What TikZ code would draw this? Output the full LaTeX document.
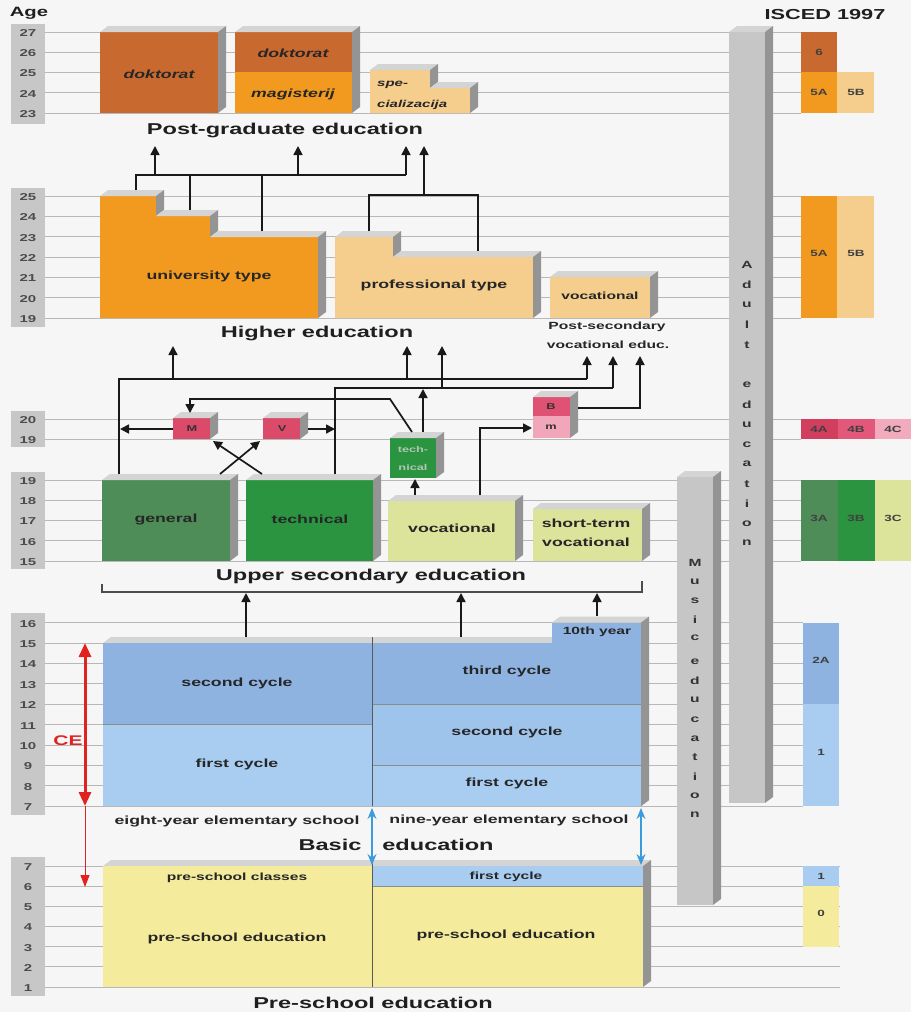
\documentclass[tikz,border=0pt]{standalone}
\usepackage{fontspec}
\setmainfont{Liberation Sans}[FakeStretch=1.5]
\usetikzlibrary{arrows.meta}
\definecolor{bg}{HTML}{F6F6F6}
\definecolor{cdok}{HTML}{C8692F}
\definecolor{cora}{HTML}{F29A1F}
\definecolor{cpea}{HTML}{F5CD8D}
\definecolor{cgen}{HTML}{4E8D57}
\definecolor{ctec}{HTML}{2A9440}
\definecolor{cvoc}{HTML}{DCE39B}
\definecolor{cmv}{HTML}{DC4A69}
\definecolor{cbb}{HTML}{DF5274}
\definecolor{cmm}{HTML}{F2A6BA}
\definecolor{cfa}{HTML}{D23E5E}
\definecolor{cfb}{HTML}{E2577A}
\definecolor{cfc}{HTML}{F2AABD}
\definecolor{cbd}{HTML}{8FB3E1}
\definecolor{cbm}{HTML}{9FC4EC}
\definecolor{cbl}{HTML}{A9CDF1}
\definecolor{cyel}{HTML}{F4EB9C}
\definecolor{ccol}{HTML}{C6C6C6}
\definecolor{cred}{HTML}{E0231F}
\definecolor{cblu}{HTML}{3C9BDA}
\newcommand\topf[3]{\fill[topface] (#1,#3) -- (#2,#3) -- ({#2+8},{#3-6}) -- ({#1+8},{#3-6}) -- cycle;}
\newcommand\sidef[3]{\fill[sideface] (#1,#2) -- ({#1+8},{#2-6}) -- ({#1+8},{#3-6}) -- (#1,#3) -- cycle;}
\newcommand\boxxd[5]{\fill[#5] (#1,#2) rectangle (#3,#4); \topf{#1}{#3}{#2} \sidef{#3}{#2}{#4}}
\tikzset{
 grid/.style={draw=black!28, line width=0.7pt},
 agebox/.style={fill=black!22},
 agenum/.style={font=\fontsize{10}{10}\selectfont\bfseries, text=black!70, inner sep=0},
 topface/.style={fill=black!17},
 sideface/.style={fill=black!42},
 conn/.style={draw=black!90, line width=1.7pt},
 arr/.style={conn, -{Triangle[length=9pt,width=9pt]}},
 head/.style={font=\fontsize{15.7}{17}\selectfont\bfseries, inner sep=0, text=black!88},
 lbl/.style={font=\fontsize{11.8}{13}\selectfont\bfseries, inner sep=0, text=black!85},
 lbli/.style={font=\fontsize{11.8}{13}\selectfont\bfseries\itshape, inner sep=0, text=black!85},
 small/.style={font=\fontsize{10.4}{12}\selectfont\bfseries, inner sep=0, text=black!85},
 tiny/.style={font=\fontsize{8.5}{9}\selectfont\bfseries, inner sep=0, text=black!80},
 isc/.style={font=\fontsize{9}{10}\selectfont\bfseries, inner sep=0, text=black!75},
 vlet/.style={font=\fontsize{10.4}{11}\selectfont\bfseries, inner sep=0, text=black!80},
}
\begin{document}
\begin{tikzpicture}[x=1pt,y=-1pt]
\useasboundingbox (0,0) rectangle (911,1012);
\fill[bg] (0,0) rectangle (911,1012);

% ---------- age label boxes ----------
\fill[agebox] (11,24) rectangle (45,124);
\fill[agebox] (11,188) rectangle (45,327);
\fill[agebox] (11,411) rectangle (45,447);
\fill[agebox] (11,472) rectangle (45,569);
\fill[agebox] (11,613) rectangle (45,815);
\fill[agebox] (11,857) rectangle (45,996);

% ---------- grid lines and ages ----------
\foreach \a in {23,...,27}{\pgfmathsetmacro\yy{113-20.25*(\a-23)}
  \draw[grid] (45,\yy) -- (801,\yy); \node[agenum] (ageA\a) at (28,\yy+1) {\a};}
\foreach \a in {19,...,25}{\pgfmathsetmacro\yy{318-20.33*(\a-19)}
  \draw[grid] (45,\yy) -- (801,\yy); \node[agenum] (ageB\a) at (28,\yy+1) {\a};}
\foreach \a in {19,20}{\pgfmathsetmacro\yy{439-20*(\a-19)}
  \draw[grid] (45,\yy) -- (801,\yy); \node[agenum] (ageC\a) at (28,\yy+1) {\a};}
\foreach \a in {15,...,19}{\pgfmathsetmacro\yy{561-20.25*(\a-15)}
  \draw[grid] (45,\yy) -- (801,\yy); \node[agenum] (ageD\a) at (28,\yy+1) {\a};}
\foreach \a in {7,...,16}{\pgfmathsetmacro\yy{806.2-20.4*(\a-7)}
  \draw[grid] (45,\yy) -- (803,\yy); \node[agenum] (ageE\a) at (28,\yy+1) {\a};}
\foreach \a in {1,...,7}{\pgfmathsetmacro\yy{987-20.17*(\a-1)}
  \draw[grid] (45,\yy) -- (840,\yy); \node[agenum] (ageF\a) at (28,\yy+1) {\a};}
\node[font=\fontsize{13.5}{14}\selectfont\bfseries, inner sep=0, text=black!88] (agehead) at (29,13) {Age};

% ---------- ISCED column ----------
\node[font=\fontsize{14.5}{15}\selectfont\bfseries, inner sep=0, text=black!88] (isced) at (825,15) {ISCED 1997};
\fill[cdok] (801,32) rectangle (837,72);
\fill[cora] (801,72) rectangle (837,113);
\fill[cpea] (837,72) rectangle (874,113);
\fill[cora] (801,196) rectangle (837,318);
\fill[cpea] (837,196) rectangle (874,318);
\fill[cfa] (801,419) rectangle (838,439);
\fill[cfb] (838,419) rectangle (875,439);
\fill[cfc] (875,419) rectangle (911,439);
\fill[cgen] (801,480) rectangle (838,561);
\fill[ctec] (838,480) rectangle (875,561);
\fill[cvoc] (875,480) rectangle (911,561);
\fill[cbd] (803,622.6) rectangle (839,704.2);
\fill[cbl] (803,704.2) rectangle (839,806.2);
\fill[cbl] (803,866) rectangle (839,886.2);
\fill[cyel] (803,886.2) rectangle (839,946.5);
\node[isc] (i6) at (819,52) {6};
\node[isc] (i5a) at (819,92) {5A};
\node[isc] (i5b) at (856,92) {5B};
\node[isc] (i5a2) at (819,253) {5A};
\node[isc] (i5b2) at (856,253) {5B};
\node[isc] (i4a) at (819,429) {4A};
\node[isc] (i4b) at (856,429) {4B};
\node[isc] (i4c) at (893,429) {4C};
\node[isc] (i3a) at (819,518) {3A};
\node[isc] (i3b) at (856,518) {3B};
\node[isc] (i3c) at (893,518) {3C};
\node[isc] (i2a) at (821,660) {2A};
\node[isc] (i1) at (821,752) {1};
\node[isc] (i1b) at (821,876) {1};
\node[isc] (i0) at (821,913) {0};

% ---------- gray columns ----------
\boxxd{729}{32}{765}{803}{ccol}
\boxxd{677}{477}{713}{905}{ccol}
\foreach \c [count=\i from 0] in {A,d,u,l,t}{\node[vlet] (adA\i) at (747,{265+20*\i}) {\c};}
\foreach \c [count=\i from 0] in {e,d,u,c,a,t,i,o,n}{\node[vlet] (adB\i) at (747,{385+19.75*\i}) {\c};}
\foreach \c [count=\i from 0] in {M,u,s,i,c}{\node[vlet] (muA\i) at (695,{563+18.8*\i}) {\c};}
\foreach \c [count=\i from 0] in {e,d,u,c,a,t,i,o,n}{\node[vlet] (muB\i) at (695,{662+19.1*\i}) {\c};}

% ---------- post-graduate ----------
\boxxd{100}{32}{218}{113}{cdok}
\fill[cdok] (235,32) rectangle (352,72);
\fill[cora] (235,72) rectangle (352,113);
\topf{235}{352}{32} \sidef{352}{32}{113}
\fill[cpea] (370,113) -- (370,70) -- (430,70) -- (430,88) -- (470,88) -- (470,113) -- cycle;
\topf{370}{430}{70} \sidef{430}{70}{88} \topf{430}{470}{88} \sidef{470}{88}{113}
\node[lbli] (dok1) at (159,74) {doktorat};
\node[lbli] (dok2) at (293,53) {doktorat};
\node[lbli] (mag) at (293,94) {magisterij};
\node[font=\fontsize{10}{11}\selectfont\bfseries\itshape, inner sep=0, text=black!85, anchor=west] (spe) at (377,85) {spe-};
\node[font=\fontsize{10}{11}\selectfont\bfseries\itshape, inner sep=0, text=black!85, anchor=west] (spec) at (377,105) {cializacija};
\node[head] (hpost) at (285,130) {Post-graduate education};

% ---------- higher education ----------
\fill[cora] (100,318) -- (100,196) -- (156,196) -- (156,216) -- (210,216) -- (210,237) -- (318,237) -- (318,318) -- cycle;
\topf{100}{156}{196} \sidef{156}{196}{216} \topf{156}{210}{216} \sidef{210}{216}{237} \topf{210}{318}{237} \sidef{318}{237}{318}
\fill[cpea] (335,318) -- (335,237) -- (393,237) -- (393,257) -- (533,257) -- (533,318) -- cycle;
\topf{335}{393}{237} \sidef{393}{237}{257} \topf{393}{533}{257} \sidef{533}{257}{318}
\boxxd{550}{277}{650}{318}{cpea}
\node[lbl] (univ) at (209,276) {university type};
\node[lbl] (prof) at (434,285) {professional type};
\node[small] (pvoc) at (600,296) {vocational};
\node[head] (hhigh) at (317,333) {Higher education};
\node[small] (ps1) at (607,327) {Post-secondary};
\node[small] (ps2) at (608,345) {vocational educ.};

% ---------- upper secondary ----------
\boxxd{102}{480}{230}{561}{cgen}
\boxxd{246}{480}{373}{561}{ctec}
\boxxd{388}{501}{515}{561}{cvoc}
\boxxd{533}{509}{642}{561}{cvoc}
\boxxd{173}{418}{210}{439}{cmv}
\boxxd{263}{418}{300}{439}{cmv}
\boxxd{390}{438}{436}{478}{ctec}
\fill[cbb] (533,397) rectangle (570,416);
\fill[cmm] (533,416) rectangle (570,438);
\topf{533}{570}{397} \sidef{570}{397}{438}
\node[lbl] (gen) at (166,519) {general};
\node[lbl] (tec) at (310,519) {technical};
\node[lbl] (voc) at (452,528) {vocational};
\node[lbl] (st1) at (586,523) {short-term};
\node[lbl] (st2) at (586,542) {vocational};
\node[tiny] (mM) at (192,429) {M};
\node[tiny] (mV) at (282,429) {V};
\node[tiny] (mB) at (551,407) {B};
\node[tiny] (mm) at (551,427) {m};
\node[tiny, text=green!25!black!30] (tn1) at (413,449) {tech-};
\node[tiny, text=green!25!black!30] (tn2) at (413,467) {nical};
\node[head] (hupper) at (371,576) {Upper secondary education};

% ---------- basic ----------
\topf{103}{552}{643}
\fill[cbd] (103,643) rectangle (372,724.6);
\fill[cbl] (103,724.6) rectangle (372,806.2);
\fill[cbd] (372,643) rectangle (641,704.2);
\fill[cbd] (552,622.6) rectangle (641,643);
\fill[cbm] (372,704.2) rectangle (641,765.4);
\fill[cbl] (372,765.4) rectangle (641,806.2);
\topf{552}{641}{622.6} \sidef{641}{622.6}{806.2}
\draw[black!45, line width=0.6pt] (103,724.6) -- (372,724.6);
\draw[black!45, line width=0.6pt] (372,704.2) -- (641,704.2);
\draw[black!45, line width=0.6pt] (372,765.4) -- (641,765.4);
\draw[black!65, line width=0.7pt] (372,637) -- (372,806.2);
\node[lbl] (b2L) at (237,683) {second cycle};
\node[lbl] (b1L) at (237,764) {first cycle};
\node[lbl] (b3R) at (507,671) {third cycle};
\node[lbl] (b2R) at (507,732) {second cycle};
\node[lbl] (b1R) at (507,783) {first cycle};
\node[small] (tenth) at (597,632) {10th year};
\node[lbl] (eight) at (237,821) {eight-year elementary school};
\node[lbl] (nine) at (509,820) {nine-year elementary school};
\node[head] (hbasic) at (330,845) {Basic};
\node[head] (hbasic2) at (438,845) {education};
\node[font=\fontsize{14}{15}\selectfont\bfseries, inner sep=0, text=cred] (ce) at (68,741) {CE};

% ---------- pre-school ----------
\topf{103}{643}{866}
\fill[cyel] (103,866) rectangle (372,987);
\fill[cbl] (372,866) rectangle (643,886.2);
\fill[cyel] (372,886.2) rectangle (643,987);
\sidef{643}{866}{987}
\draw[black!45, line width=0.6pt] (372,886.2) -- (643,886.2);
\draw[black!65, line width=0.7pt] (372,860) -- (372,987);
\node[small] (psc) at (237,878) {pre-school classes};
\node[small] (pfc) at (506,877) {first cycle};
\node[lbl] (pseL) at (237,938) {pre-school education};
\node[lbl] (pseR) at (506,935) {pre-school education};
\node[head] (hpre) at (373,1003) {Pre-school education};

% ---------- connector points ----------
\coordinate (u1) at (136,190); \coordinate (u2) at (190,210); \coordinate (u3) at (262,231);
\coordinate (barL) at (136,175); \coordinate (barR) at (406,175);
\coordinate (pa1) at (155,175); \coordinate (pa1t) at (155,146);
\coordinate (pa2) at (298,175); \coordinate (pa2t) at (298,146);
\coordinate (pa3t) at (406,146);
\coordinate (p1) at (369,231); \coordinate (p2) at (478,251);
\coordinate (pb) at (424,195); \coordinate (pbt) at (424,146);
\coordinate (gtop) at (119,474); \coordinate (ttop) at (335,474);
\coordinate (hA) at (173,379); \coordinate (hAt) at (173,346);
\coordinate (hB) at (407,379); \coordinate (hBt) at (407,346);
\coordinate (hC) at (442,388); \coordinate (hCt) at (442,346);
\coordinate (hD) at (587,379); \coordinate (hDt) at (587,356);
\coordinate (hE) at (613,388); \coordinate (hEt) at (613,356);
\coordinate (hF) at (640,408); \coordinate (hFt) at (640,356);

% ---------- connectors: to post-graduate ----------
\draw[conn] (u1) |- (barR);
\draw[conn] (u2) -- (190,175);
\draw[conn] (u3) -- (262,175);
\draw[arr] (barR) -- (pa3t);
\draw[arr] (pa1) -- (pa1t);
\draw[arr] (pa2) -- (pa2t);
\draw[conn] (p1) |- (pb) -| (p2);
\draw[arr] (pb) -- (pbt);

% ---------- connectors: to higher education ----------
\draw[conn] (gtop) |- (hD);
\draw[arr] (hD) -- (hDt);
\draw[arr] (hA) -- (hAt);
\draw[arr] (hB) -- (hBt);
\draw[conn] (ttop) |- (hE);
\draw[arr] (hE) -- (hEt);
\draw[arr] (hC) -- (hCt);
\draw[arr] (578,408) -- (hF) -- (hFt);
\draw[arr] (423,432) -- (423,389);
\draw[arr] (412,432) -- (390,399) -- (190,399) -- (190,413);
\draw[arr] (173,429) -- (120,429);
\draw[arr] (308,429) -- (335,429);
\draw[arr] (220,474) -- (260,441);
\draw[arr] (262,474) -- (213,441);
\draw[arr] (415,495) -- (415,479);
\draw[arr] (480,495) -- (480,428) -- (532,428);

% ---------- brace and arrows to upper secondary ----------
\draw[black!70, line width=1.2pt] (102,584) -- (102,592) -- (642,592) -- (642,581);
\draw[arr] (246,637) -- (246,593);
\draw[arr] (461,637) -- (461,593);
\draw[arr] (597,616) -- (597,593);

% ---------- CE and blue arrows ----------
\draw[cred, line width=3pt, {Triangle[length=14pt,width=12pt]}-{Triangle[length=14pt,width=12pt]}] (85,643) -- (85,806);
\draw[cred, line width=1pt, -{Triangle[length=12pt,width=9pt]}] (85,806) -- (85,887);
\draw[cblu, line width=1.1pt, {Stealth[length=11pt,width=9pt]}-{Stealth[length=11pt,width=9pt]}] (372,808) -- (372,865);
\draw[cblu, line width=1.1pt, {Stealth[length=11pt,width=9pt]}-{Stealth[length=11pt,width=9pt]}] (641,808) -- (641,865);
\end{tikzpicture}
\end{document}
